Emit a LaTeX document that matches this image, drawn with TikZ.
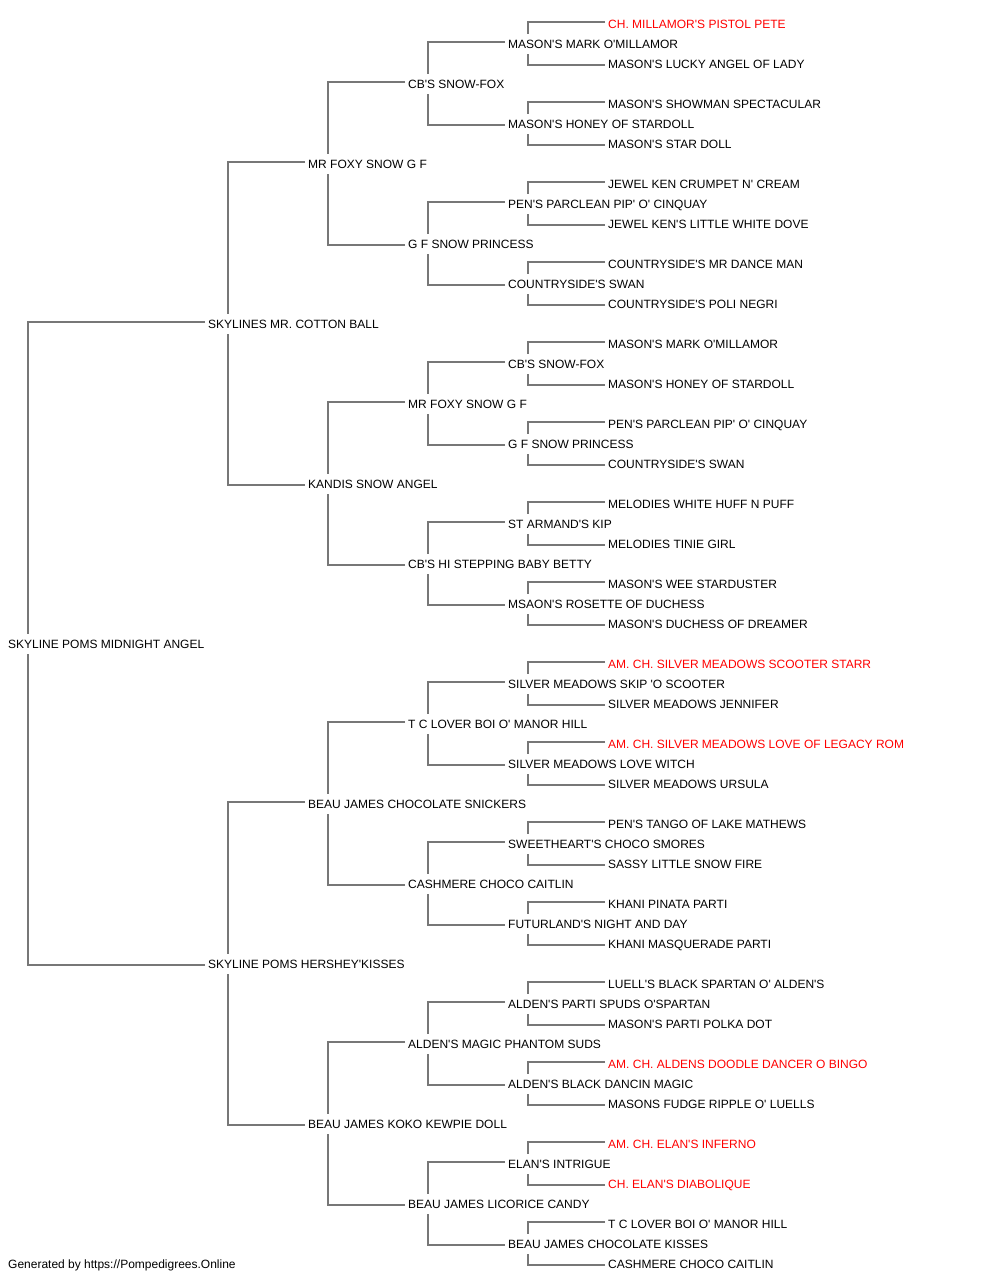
\documentclass[tikz,border=0pt]{standalone}
\usepackage{fontspec}
\newfontfamily\arial{Liberation Sans}
\definecolor{linegray}{HTML}{777777}
\definecolor{chred}{HTML}{FF0000}
\tikzset{
  nm/.style={anchor=west, xshift=-3pt, inner xsep=3pt, inner ysep=5.7pt, text height=8.6pt, text depth=0pt, font=\arial\fontsize{12}{14}\selectfont, text=black},
  ch/.style={nm, text=chred},
  conn/.style={draw=linegray, line width=1.2pt}
}
\newcommand\pedlink[3]{%
  \draw[conn] ([yshift=2pt]#2.west) -| ([xshift=23pt]#1.north west);
  \draw[conn] ([yshift=-1pt]#3.west) -| ([xshift=23pt]#1.south west);
}
\begin{document}
\begin{tikzpicture}[x=1pt,y=-1pt]
\useasboundingbox (0,0) rectangle (1000,1280);
% generation 0
\node[nm] (s0) at (8,644) {SKYLINE POMS MIDNIGHT ANGEL};
% generation 1
\node[nm] (a1) at (208,324) {SKYLINES MR. COTTON BALL};
\node[nm] (a2) at (208,964) {SKYLINE POMS HERSHEY'KISSES};
% generation 2
\node[nm] (b1) at (308,164) {MR FOXY SNOW G F};
\node[nm] (b2) at (308,484) {KANDIS SNOW ANGEL};
\node[nm] (b3) at (308,804) {BEAU JAMES CHOCOLATE SNICKERS};
\node[nm] (b4) at (308,1124) {BEAU JAMES KOKO KEWPIE DOLL};
% generation 3
\node[nm] (c1) at (408,84) {CB'S SNOW-FOX};
\node[nm] (c2) at (408,244) {G F SNOW PRINCESS};
\node[nm] (c3) at (408,404) {MR FOXY SNOW G F};
\node[nm] (c4) at (408,564) {CB'S HI STEPPING BABY BETTY};
\node[nm] (c5) at (408,724) {T C LOVER BOI O' MANOR HILL};
\node[nm] (c6) at (408,884) {CASHMERE CHOCO CAITLIN};
\node[nm] (c7) at (408,1044) {ALDEN'S MAGIC PHANTOM SUDS};
\node[nm] (c8) at (408,1204) {BEAU JAMES LICORICE CANDY};
% generation 4
\node[nm] (d1) at (508,44) {MASON'S MARK O'MILLAMOR};
\node[nm] (d2) at (508,124) {MASON'S HONEY OF STARDOLL};
\node[nm] (d3) at (508,204) {PEN'S PARCLEAN PIP' O' CINQUAY};
\node[nm] (d4) at (508,284) {COUNTRYSIDE'S SWAN};
\node[nm] (d5) at (508,364) {CB'S SNOW-FOX};
\node[nm] (d6) at (508,444) {G F SNOW PRINCESS};
\node[nm] (d7) at (508,524) {ST ARMAND'S KIP};
\node[nm] (d8) at (508,604) {MSAON'S ROSETTE OF DUCHESS};
\node[nm] (d9) at (508,684) {SILVER MEADOWS SKIP 'O SCOOTER};
\node[nm] (d10) at (508,764) {SILVER MEADOWS LOVE WITCH};
\node[nm] (d11) at (508,844) {SWEETHEART'S CHOCO SMORES};
\node[nm] (d12) at (508,924) {FUTURLAND'S NIGHT AND DAY};
\node[nm] (d13) at (508,1004) {ALDEN'S PARTI SPUDS O'SPARTAN};
\node[nm] (d14) at (508,1084) {ALDEN'S BLACK DANCIN MAGIC};
\node[nm] (d15) at (508,1164) {ELAN'S INTRIGUE};
\node[nm] (d16) at (508,1244) {BEAU JAMES CHOCOLATE KISSES};
% generation 5
\node[ch] (e1) at (608,24) {CH. MILLAMOR'S PISTOL PETE};
\node[nm] (e2) at (608,64) {MASON'S LUCKY ANGEL OF LADY};
\node[nm] (e3) at (608,104) {MASON'S SHOWMAN SPECTACULAR};
\node[nm] (e4) at (608,144) {MASON'S STAR DOLL};
\node[nm] (e5) at (608,184) {JEWEL KEN CRUMPET N' CREAM};
\node[nm] (e6) at (608,224) {JEWEL KEN'S LITTLE WHITE DOVE};
\node[nm] (e7) at (608,264) {COUNTRYSIDE'S MR DANCE MAN};
\node[nm] (e8) at (608,304) {COUNTRYSIDE'S POLI NEGRI};
\node[nm] (e9) at (608,344) {MASON'S MARK O'MILLAMOR};
\node[nm] (e10) at (608,384) {MASON'S HONEY OF STARDOLL};
\node[nm] (e11) at (608,424) {PEN'S PARCLEAN PIP' O' CINQUAY};
\node[nm] (e12) at (608,464) {COUNTRYSIDE'S SWAN};
\node[nm] (e13) at (608,504) {MELODIES WHITE HUFF N PUFF};
\node[nm] (e14) at (608,544) {MELODIES TINIE GIRL};
\node[nm] (e15) at (608,584) {MASON'S WEE STARDUSTER};
\node[nm] (e16) at (608,624) {MASON'S DUCHESS OF DREAMER};
\node[ch] (e17) at (608,664) {AM. CH. SILVER MEADOWS SCOOTER STARR};
\node[nm] (e18) at (608,704) {SILVER MEADOWS JENNIFER};
\node[ch] (e19) at (608,744) {AM. CH. SILVER MEADOWS LOVE OF LEGACY ROM};
\node[nm] (e20) at (608,784) {SILVER MEADOWS URSULA};
\node[nm] (e21) at (608,824) {PEN'S TANGO OF LAKE MATHEWS};
\node[nm] (e22) at (608,864) {SASSY LITTLE SNOW FIRE};
\node[nm] (e23) at (608,904) {KHANI PINATA PARTI};
\node[nm] (e24) at (608,944) {KHANI MASQUERADE PARTI};
\node[nm] (e25) at (608,984) {LUELL'S BLACK SPARTAN O' ALDEN'S};
\node[nm] (e26) at (608,1024) {MASON'S PARTI POLKA DOT};
\node[ch] (e27) at (608,1064) {AM. CH. ALDENS DOODLE DANCER O BINGO};
\node[nm] (e28) at (608,1104) {MASONS FUDGE RIPPLE O' LUELLS};
\node[ch] (e29) at (608,1144) {AM. CH. ELAN'S INFERNO};
\node[ch] (e30) at (608,1184) {CH. ELAN'S DIABOLIQUE};
\node[nm] (e31) at (608,1224) {T C LOVER BOI O' MANOR HILL};
\node[nm] (e32) at (608,1264) {CASHMERE CHOCO CAITLIN};
% footer
\node[nm] (foot) at (8,1264) {Generated by https://Pompedigrees.Online};
% connectors
\pedlink{s0}{a1}{a2}
\pedlink{a1}{b1}{b2}
\pedlink{a2}{b3}{b4}
\pedlink{b1}{c1}{c2}
\pedlink{b2}{c3}{c4}
\pedlink{b3}{c5}{c6}
\pedlink{b4}{c7}{c8}
\pedlink{c1}{d1}{d2}
\pedlink{c2}{d3}{d4}
\pedlink{c3}{d5}{d6}
\pedlink{c4}{d7}{d8}
\pedlink{c5}{d9}{d10}
\pedlink{c6}{d11}{d12}
\pedlink{c7}{d13}{d14}
\pedlink{c8}{d15}{d16}
\pedlink{d1}{e1}{e2}
\pedlink{d2}{e3}{e4}
\pedlink{d3}{e5}{e6}
\pedlink{d4}{e7}{e8}
\pedlink{d5}{e9}{e10}
\pedlink{d6}{e11}{e12}
\pedlink{d7}{e13}{e14}
\pedlink{d8}{e15}{e16}
\pedlink{d9}{e17}{e18}
\pedlink{d10}{e19}{e20}
\pedlink{d11}{e21}{e22}
\pedlink{d12}{e23}{e24}
\pedlink{d13}{e25}{e26}
\pedlink{d14}{e27}{e28}
\pedlink{d15}{e29}{e30}
\pedlink{d16}{e31}{e32}
\end{tikzpicture}
\end{document}
